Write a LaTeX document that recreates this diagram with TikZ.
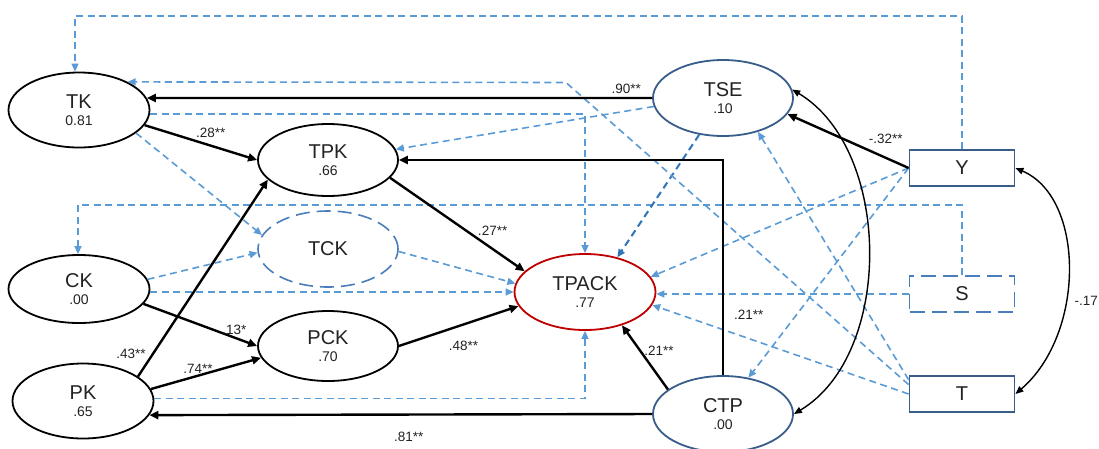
\documentclass[tikz,border=0pt]{standalone}
\usepackage{fontspec}
\setmainfont{Liberation Sans}
\usetikzlibrary{arrows.meta,shapes.geometric}
\definecolor{dblue}{HTML}{5B9BD5}
\definecolor{ddark}{HTML}{2E75B6}
\definecolor{nblue}{HTML}{385D8A}
\definecolor{sblue}{HTML}{4A7EBB}
\definecolor{tred}{HTML}{C00000}
\definecolor{txt}{HTML}{222222}
\newcommand\vfont{\fontsize{14}{14}\selectfont}
\begin{document}
\begin{tikzpicture}[x=1pt,y=-1pt,
  lat/.style={ellipse, draw=black, line width=1.8pt, minimum width=141pt, minimum height=75pt, inner sep=0pt, align=center, text=txt, font=\fontsize{20}{17}\selectfont},
  obs/.style={rectangle, draw=nblue, line width=1.8pt, minimum width=105pt, minimum height=36pt, inner sep=0pt, text=txt, font=\fontsize{20}{20}\selectfont},
  sp/.style={line width=2.4pt, -{Triangle[length=9pt,width=8pt]}},
  cov/.style={line width=1.4pt, {Triangle[length=8pt,width=6.5pt]}-{Triangle[length=8pt,width=6.5pt]}},
  dsh/.style={dblue, line width=1.6pt, dash pattern=on 7pt off 4.5pt, -{Triangle[length=8pt,width=7pt]}},
  lbl/.style={font=\fontsize{13.5}{13.5}\selectfont, text=txt, inner sep=1pt},
]
\useasboundingbox (0,0) rectangle (1099,448);

% latent variables
\node[lat] (TK) at (79,110) {TK\\{\vfont 0.81}};
\node[lat, minimum width=140pt, minimum height=72pt] (TPK) at (328,160) {TPK\\{\vfont .66}};
\node[lat, minimum width=140pt, minimum height=76pt, draw=sblue, dash pattern=on 14pt off 7pt, line width=1.6pt] (TCK) at (328,249) {TCK};
\node[lat, minimum height=68pt] (CK) at (79,289) {CK\\{\vfont .00}};
\node[lat] (PK) at (83,401) {PK\\{\vfont .65}};
\node[lat, minimum width=140pt, minimum height=70pt] (PCK) at (328,346) {PCK\\{\vfont .70}};
\node[lat, minimum height=76pt, draw=tred] (TPACK) at (585,292) {TPACK\\{\vfont .77}};
\node[lat, minimum width=140pt, minimum height=76pt, draw=nblue] (TSE) at (723,98) {TSE\\{\vfont .10}};
\node[lat, minimum width=140pt, minimum height=76pt, draw=nblue] (CTP) at (723,414) {CTP\\{\vfont .00}};

% observed variables
\node[obs] (Y) at (962,168) {Y};
\node[obs, draw=sblue, dash pattern=on 15pt off 7pt] (S) at (962,294) {S};
\node[obs] (T) at (962,394) {T};

\coordinate (topy) at (0,16);
\coordinate (midy) at (0,205);
\coordinate (kbend) at (566,82.5);

% dashed (non-significant) paths
\draw[dsh] (Y.north) -- (Y.north |- topy) -| ([xshift=-4pt]TK.north);
\draw[dsh] (S.north) -- (S.north |- midy) -| ([xshift=-1pt]CK.north);
\draw[dsh] (CK.8) -- (TCK.183);
\draw[dsh] (TPACK.west -| CK.east) -- (TPACK.west);
\draw[dsh] (TCK.-2) -- (TPACK.173);
\draw[dsh] (TK.-22) -- (TCK.168);
\draw[dsh] (TK.-3) -| (TPACK.north);
\draw[dsh] (PK.2) -| (TPACK.south);
\draw[dsh] (TSE.187) -- (TPK.9);
\draw[dsh, ddark, line width=2pt] (TSE.237) -- (TPACK.47);
\draw[dsh] (T.170) -- (kbend) -- (TK.30);
\draw[dsh] (T.165) -- (TSE.-44);
\draw[dsh] (T.west) -- (TPACK.-11);
\draw[dsh] (S.west) -- (TPACK.east |- S.west);
\draw[dsh] (Y.west) -- (TPACK.13);
\draw[dsh] (Y.west) -- (CTP.55);

% significant paths
\draw[sp] (TSE.west) -- node[lbl, pos=0.051, above=2.3pt] {.90**} (TK.10);
\draw[sp] (TK.-13) -- node[lbl, pos=0.587, above=6pt] {.28**} (TPK.west);
\draw[sp] (CTP.north) |- node[lbl, pos=0.141, right=9pt] {.21**} (TPK.east);
\draw[sp] (TPK.-16) -- node[lbl, pos=0.57, anchor=west, xshift=9pt] {.27**} (TPACK.161);
\draw[sp] (CK.-13) -- node[lbl, pos=0.8, above=1pt] {.13*} (PCK.west);
\draw[sp] (PK.24) -- node[lbl, pos=0.115, left=5pt] {.43**} (TPK.198);
\draw[sp] (PK.10) -- node[lbl, pos=0.427, above=0pt] {.74**} (PCK.190);
\draw[sp] (PCK.east) -- node[lbl, pos=0.54, below=14.5pt] {.48**} (TPACK.192);
\draw[sp] (CTP.156) -- node[lbl, pos=0.596, right=1.5pt] {.21**} (TPACK.-42);
\draw[sp] (CTP.west) -- node[lbl, pos=0.484, below=15.5pt] {.81**} (PK.-12);
\draw[sp] (Y.west) -- node[lbl, pos=0.189, above=12pt] {-.32**} (TSE.-14);

% covariances
\draw[cov] (TSE.7) .. controls +(100,60) and +(100,-60) .. (CTP.east);
\draw[cov] (Y.east) .. controls +(70,30) and +(70,-60) .. (T.east);
\node[lbl, anchor=east] (l17) at (1099,301) {-.17};
\end{tikzpicture}
\end{document}
